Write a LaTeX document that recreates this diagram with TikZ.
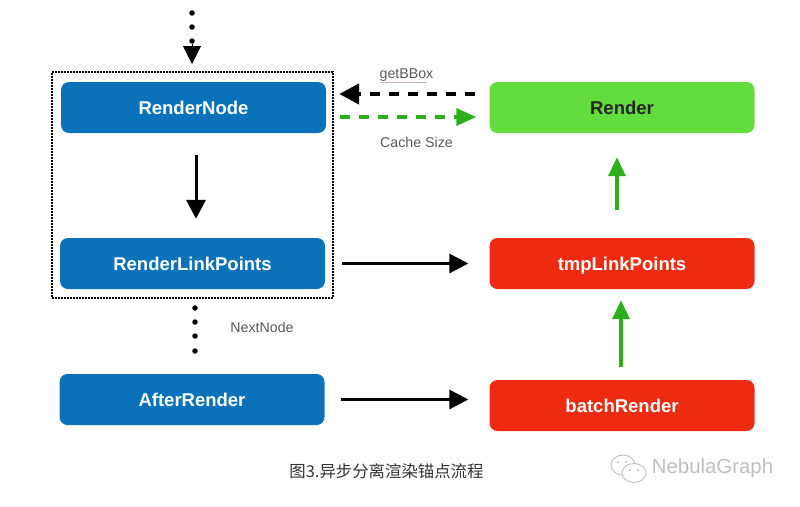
\documentclass[tikz,border=0pt]{standalone}
\usepackage{fontspec}
\setmainfont{Liberation Sans}
\newfontfamily\cjk{Noto Sans CJK SC}
\usetikzlibrary{arrows.meta}
\usetikzlibrary{positioning}
\definecolor{boxblue}{HTML}{0A72BA}
\definecolor{boxgreen}{HTML}{62DD3C}
\definecolor{boxred}{HTML}{EE2A10}
\definecolor{arrowgreen}{HTML}{2DAE1B}
\tikzset{
    flowbox/.style={rounded corners=8pt, minimum width=265pt, minimum height=51pt, inner sep=0pt, text height=15pt, text depth=2pt, font=\fontsize{18.5}{22}\selectfont\bfseries},
    bluebox/.style={flowbox, fill=boxblue, text=white},
    greenbox/.style={flowbox, fill=boxgreen, text=black!85},
    redbox/.style={flowbox, fill=boxred, text=white},
    smalllabel/.style={font=\fontsize{14.2}{16}\selectfont, text=black!65},
    blackarrow/.style={-{Triangle[length=19pt,width=19pt]}, line width=3pt, black},
    greenarrow/.style={-{Triangle[length=19pt,width=17pt]}, line width=3.5pt, arrowgreen},
    dot/.style={circle, fill=black, inner sep=0pt, minimum size=5.5pt}
}
\begin{document}
\begin{tikzpicture}[x=1pt,y=-1pt]
    \useasboundingbox (0,0) rectangle (800,506);

    % Rahmen
    \node[draw, line width=1.6pt, dash pattern=on 1.6pt off 1.4pt, minimum width=281pt, minimum height=226pt, inner sep=0pt] (frame) at (192.5,185) {};

    % Linke Spalte
    \node[bluebox] (rendernode) at (193.5,107.5) {RenderNode};
    \node[bluebox] (linkpoints) at (192.5,263.5) {RenderLinkPoints};
    \node[bluebox] (afterrender) at (192,399.5) {AfterRender};

    % Rechte Spalte
    \node[greenbox] (render) at (622,107.5) {Render};
    \node[redbox] (tmppoints) at (622,263.5) {tmpLinkPoints};
    \node[redbox] (batchrender) at (622,405.5) {batchRender};

    % Punkte
    \foreach \y/\name in {13/a,27/b,41/c} {
        \node[dot] (top\name) at (192,\y) {};
    }
    \foreach \y/\name in {308/a,322/b,336/c,351/d} {
        \node[dot] (next\name) at (195,\y) {};
    }
    \coordinate (toptip) at (192,64);
    \draw[-{Triangle[length=18pt,width=18pt]}, line width=1pt] (topc) -- (toptip);

    % Schwarze Pfeile
    \draw[blackarrow, shorten <=22pt, shorten >=19pt] (rendernode.south -| 196,0) -- (linkpoints.north -| 196,0);
    \draw[blackarrow, shorten <=17pt, shorten >=21pt] (linkpoints.east) -- (tmppoints.west);
    \draw[blackarrow, shorten <=16pt, shorten >=21pt] (afterrender.east) -- (afterrender.east -| batchrender.west);

    % Gruene Pfeile
    \draw[greenarrow, shorten <=13pt, shorten >=11pt] ([xshift=-1pt]batchrender.north) -- ([xshift=-1pt]tmppoints.south);
    \draw[greenarrow, shorten <=28pt, shorten >=24pt] ([xshift=-5pt]tmppoints.north) -- ([xshift=-5pt]render.south);

    % Gestrichelte Pfeile
    \draw[-{Triangle[length=20pt,width=20pt]}, line width=4.5pt, dash pattern=on 10pt off 9pt, shorten <=14pt, shorten >=14pt] ([yshift=13.5pt]render.west) -- ([yshift=13.5pt,xshift=-1pt]rendernode.east);
    \draw[-{Triangle[length=20pt,width=17pt]}, line width=3.5pt, arrowgreen, dash pattern=on 10pt off 9pt, shorten <=14pt, shorten >=13pt] ([yshift=-9.5pt]rendernode.east) -- ([yshift=-9.5pt]render.west);

    % Beschriftungen
    \node[smalllabel] (bboxlabel) at (406.5,75) {getBBox};
    \node[smalllabel] (cachelabel) at (416.5,142) {Cache Size};
    \node[smalllabel] (nextlabel) at (262,327) {NextNode};
    \draw[red!45!black!30, line width=0.7pt] (bboxlabel.south west) ++(4,-3) -- ++(47,0);
    \node[font=\fontsize{16.4}{19}\selectfont, text=black!80] (caption) at (386.5,471) {\cjk 图3.异步分离渲染锚点流程};

    % Wasserzeichen
    \node[font=\fontsize{20.4}{24}\selectfont, text=black!25] (mark) at (712.5,468) {NebulaGraph};
    \draw[black!25, line width=0.9pt, fill=white] (623,465) ellipse (12pt and 10pt);
    \draw[black!25, line width=0.9pt, fill=white] (634,473) ellipse (12pt and 9.5pt);
    \foreach \x/\y in {618/462,626/462,630/470,638/470} {
        \fill[black!25] (\x,\y) circle (1.1pt);
    }
\end{tikzpicture}
\end{document}
